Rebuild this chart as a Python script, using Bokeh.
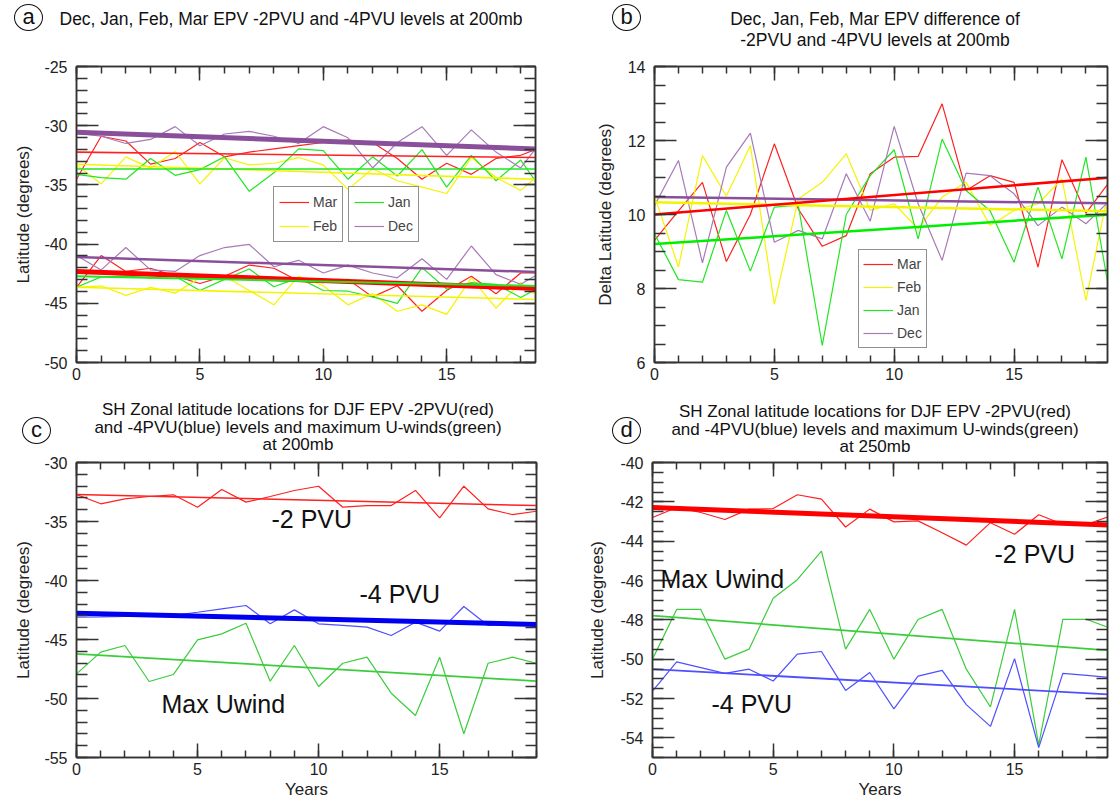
from bokeh.plotting import figure
from bokeh.layouts import column, row
from bokeh.models import (Range1d, LinearAxis, SingleIntervalTicker, Legend,
                          LegendItem, Label, Div, PrintfTickFormatter, CustomJSTickFormatter)
from bokeh.embed import file_html
from bokeh.resources import INLINE

# ---------------- data ----------------
years = list(range(20))
trend_x = [0, 19]

# panel a : latitude of -2PVU and -4PVU at 200mb
a_mar_2 = [-34.52, -30.89, -31.29, -33.25, -32.77, -31.42, -32.63, -32.23, -31.96, -31.69,
           -31.42, -31.21, -31.42, -32.77, -34.52, -33.17, -34.11, -32.77, -32.5, -31.69]
a_feb_2 = [-33.31, -34.92, -32.63, -33.58, -32.18, -34.92, -32.71, -33.31, -33.17, -32.69,
           -33.31, -35.38, -33.63, -34.65, -35.19, -35.73, -32.69, -34.38, -35.46, -33.71]
a_jan_2 = [-34.11, -34.38, -34.52, -32.77, -34.19, -33.71, -32.63, -35.54, -33.98, -31.96,
           -32.1, -34.52, -32.63, -34.25, -32.02, -35.19, -32.5, -34.65, -32.9, -35.86]
a_dec_2 = [-30.62, -30.89, -31.5, -31.16, -30.08, -31.69, -30.7, -30.48, -30.89, -31.5,
           -30.08, -31.02, -33.57, -31.42, -30.08, -32.5, -30.35, -32.23, -33.57, -30.89]
a_mar_4 = [-43.65, -40.97, -42.31, -42.04, -42.71, -43.33, -42.71, -41.77, -42.04, -43.12,
           -43.25, -42.98, -44.46, -43.52, -45.67, -43.92, -42.71, -44.19, -42.44, -42.44]
a_feb_4 = [-43.65, -43.52, -44.33, -43.65, -44.14, -42.85, -42.71, -43.92, -45.13, -42.71,
           -43.52, -45.13, -44.19, -45.67, -45.13, -45.94, -42.85, -45.4, -43.25, -45.0]
a_jan_4 = [-43.65, -42.77, -42.71, -42.85, -42.71, -43.92, -42.98, -42.1, -43.6, -42.85,
           -43.92, -43.98, -44.46, -45.0, -41.99, -43.79, -43.25, -43.39, -44.51, -43.39]
a_dec_4 = [-40.97, -42.18, -40.29, -42.18, -42.31, -40.97, -40.29, -40.03, -41.91, -41.37,
           -42.44, -41.77, -42.44, -42.85, -41.24, -42.98, -40.16, -42.58, -43.39, -42.18]
a_trend_mar_2 = [-32.23, -32.70]
a_trend_feb_2 = [-33.25, -34.55]
a_trend_jan_2 = [-33.66, -33.66]
a_trend_dec_2 = [-30.56, -31.99]
a_trend_mar_4 = [-42.31, -43.77]
a_trend_feb_4 = [-43.65, -44.70]
a_trend_jan_4 = [-42.71, -43.55]
a_trend_dec_4 = [-41.10, -42.38]

# panel b : difference (delta latitude)
b_mar = [9.3, 10.1, 10.87, 8.73, 10.0, 11.91, 10.15, 9.14, 9.43, 11.1,
         11.55, 11.57, 12.99, 10.65, 11.05, 10.87, 8.58, 11.48, 10.04, 10.9]
b_feb = [10.51, 8.58, 11.59, 10.5, 11.86, 7.57, 10.42, 10.87, 11.64, 10.11,
         10.29, 9.61, 10.47, 10.87, 9.7, 10.11, 10.29, 10.96, 7.68, 10.83]
b_jan = [9.48, 8.24, 8.17, 10.11, 8.47, 10.2, 10.25, 6.46, 10.0, 11.05,
         11.75, 9.34, 12.04, 10.65, 10.1, 8.71, 10.74, 8.8, 11.55, 7.81]
b_dec = [10.24, 11.46, 8.69, 11.28, 12.2, 9.25, 9.57, 9.34, 11.1, 9.82,
         12.38, 10.29, 8.76, 11.12, 11.05, 10.56, 9.7, 10.2, 9.75, 10.38]
b_trend_mar = [10.0, 11.0]
b_trend_feb = [10.33, 10.09]
b_trend_jan = [9.2, 10.0]
b_trend_dec = [10.47, 10.3]

# panel c : DJF at 200mb
c_red = [-32.71, -33.5, -33.08, -32.88, -32.74, -33.79, -32.29, -33.36, -32.88, -32.37,
         -32.01, -33.79, -33.65, -33.65, -32.37, -34.69, -32.01, -33.93, -34.41, -34.13]
c_blue = [-43.1, -43.08, -43.05, -43.0, -42.95, -42.69, -42.4, -42.12, -43.67, -42.49,
          -43.67, -43.81, -43.95, -44.66, -43.53, -44.29, -42.2, -43.81, -43.67, -43.67]
c_green = [-47.91, -46.07, -45.51, -48.56, -47.97, -45.03, -44.52, -43.62, -48.53, -45.51,
           -48.98, -47.01, -46.5, -49.55, -51.44, -46.5, -52.99, -47.01, -46.5, -47.01]
c_trend_red = [-32.71, -33.65]
c_trend_blue = [-42.77, -43.73]
c_trend_green = [-46.21, -48.53]

# panel d : DJF at 250mb
d_red = [-42.8, -42.29, -42.54, -42.9, -42.37, -42.34, -41.64, -41.86, -43.28, -42.37,
         -43.02, -42.97, -43.57, -44.2, -43.06, -43.65, -42.66, -43.14, -43.14, -42.71]
d_green = [-50.0, -47.47, -47.47, -50.0, -49.49, -46.9, -45.96, -44.51, -49.49, -47.47,
           -50.0, -47.98, -47.47, -50.51, -52.43, -47.47, -54.36, -47.98, -47.98, -48.44]
d_blue = [-51.63, -50.14, -50.43, -50.72, -50.51, -51.11, -49.74, -49.61, -51.59, -50.68,
          -52.53, -50.86, -50.57, -52.31, -53.42, -49.97, -54.5, -50.72, -50.82, -50.94]
d_trend_red = [-42.29, -43.18]
d_trend_green = [-47.79, -49.57]
d_trend_blue = [-50.51, -51.8]

title_a = "Dec, Jan, Feb, Mar EPV -2PVU and -4PVU levels at 200mb"
title_b = ["Dec, Jan, Feb, Mar EPV difference of", "-2PVU and -4PVU levels at 200mb"]
title_c = ["SH Zonal latitude locations for DJF EPV -2PVU(red)",
           "and -4PVU(blue) levels and maximum U-winds(green)", "at 200mb"]
title_d = ["SH Zonal latitude locations for DJF EPV -2PVU(red)",
           "and -4PVU(blue) levels and maximum U-winds(green)", "at 250mb"]

# ---------------- style ----------------
FONT = "Liberation Sans"
RED = "#ff2020"
YEL = "#f4f400"
GRN = "#22e622"
PUR = "#a77ab8"
PUR_DK = "#8a4f9a"
GRN2 = "#3ccc3c"
BLU = "#4f4fff"
BLU_DK = "#0000f0"
AX = "#333333"
TICK_FS = "16px"
AXLAB_FS = "17px"


def make_fig(w, h, xr, yr, mb, yint, yminor, xlabel=None, ylabel=None, ysd=10, ylsd=10):
    left, right, top, bottom = mb
    p = figure(width=w, height=h, x_range=Range1d(*xr), y_range=Range1d(*yr),
               output_backend="svg", toolbar_location=None,
               min_border_left=left, min_border_right=right,
               min_border_top=top, min_border_bottom=bottom)
    p.grid.visible = False
    p.outline_line_color = AX
    p.outline_line_width = 1.5
    p.background_fill_color = "white"
    p.border_fill_color = "white"
    bottom_ax = p.below[0]
    left_ax = p.left[0]
    bottom_ax.ticker = SingleIntervalTicker(interval=5, num_minor_ticks=5)
    left_ax.ticker = SingleIntervalTicker(interval=yint, num_minor_ticks=yminor)
    bottom_ax.formatter = PrintfTickFormatter(format="%d")
    left_ax.formatter = PrintfTickFormatter(format="%d")
    blank = CustomJSTickFormatter(code="return ''")
    top_ax = LinearAxis(ticker=SingleIntervalTicker(interval=5, num_minor_ticks=5),
                        formatter=blank)
    right_ax = LinearAxis(ticker=SingleIntervalTicker(interval=yint, num_minor_ticks=yminor),
                          formatter=blank)
    p.add_layout(top_ax, "above")
    p.add_layout(right_ax, "right")
    for ax, maj, mnr in ((bottom_ax, 14, 7), (top_ax, 14, 7),
                         (left_ax, 22, 11), (right_ax, 22, 11)):
        ax.major_tick_in = maj
        ax.major_tick_out = 0
        ax.minor_tick_in = mnr
        ax.minor_tick_out = 0
        ax.axis_line_color = AX
        ax.axis_line_width = 1.5
        ax.major_tick_line_color = AX
        ax.major_tick_line_width = 1.5
        ax.minor_tick_line_color = AX
        ax.minor_tick_line_width = 1.5
        ax.major_label_text_font = FONT
        ax.major_label_text_font_size = TICK_FS
        ax.major_label_text_color = "#222222"
        ax.axis_label_text_font = FONT
        ax.axis_label_text_font_size = AXLAB_FS
        ax.axis_label_text_font_style = "normal"
        ax.axis_label_text_color = "#222222"
    for ax in (top_ax, right_ax):
        ax.major_label_text_font_size = "1px"
        ax.major_label_standoff = 0
    bottom_ax.major_label_standoff = 5
    left_ax.major_label_standoff = ysd
    left_ax.axis_label_standoff = ylsd
    bottom_ax.axis_label_standoff = 2
    if xlabel:
        bottom_ax.axis_label = xlabel
    if ylabel:
        left_ax.axis_label = ylabel
    return p


def to_data(px, py, frame, xr, yr):
    fx0, fx1, fy0, fy1 = frame
    x = xr[0] + (px - fx0) / (fx1 - fx0) * (xr[1] - xr[0])
    y = yr[1] - (py - fy0) / (fy1 - fy0) * (yr[1] - yr[0])
    return x, y


def add_text(p, geo, px, py, text, size="25px"):
    x, y = to_data(px, py, *geo)
    p.add_layout(Label(x=x, y=y, text=text, text_font=FONT, text_font_size=size,
                       text_align="left", text_baseline="middle", text_color="#111111"))


def make_legend(items, loc, gh, sp, pad):
    return Legend(items=items, location=loc, glyph_width=30, glyph_height=gh,
                  label_text_font=FONT, label_text_font_size="14px", label_standoff=4,
                  label_height=gh, padding=pad, spacing=sp, margin=0,
                  border_line_color="#222222", border_line_width=1,
                  background_fill_color="white", background_fill_alpha=1)


def circle_html(letter, left, top):
    return ('<div style="position:absolute;left:%dpx;top:%dpx;width:29px;height:27px;'
            'border:1.5px solid #111;border-radius:50%%;font-size:22px;line-height:24px;'
            'text-align:center;">%s</div>' % (left, top, letter))


def title_html(lines, center, top, size, lh):
    out = ('<div style="position:absolute;left:%dpx;width:600px;top:%dpx;text-align:center;'
           'font-size:%.1fpx;line-height:%.1fpx;white-space:nowrap;">'
           % (center - 300, top, size, lh))
    out += "<br>".join(lines)
    return out + "</div>"


def band(inner, h):
    html = ('<div style="position:relative;width:1109px;height:%dpx;'
            'font-family:\'Liberation Sans\',Arial,sans-serif;color:#111;">%s</div>' % (h, inner))
    return Div(text=html, width=1109, height=h, margin=0)


# ---------------- panel a ----------------
A_XR, A_YR = (0, 18.6), (-50, -25)
pa = make_fig(580, 352, A_XR, A_YR, (76, 45, 4, 38), 5, 5, ylabel="Latitude (degrees)",
              ysd=9, ylsd=8)
r_mar = pa.line(years, a_mar_2, color=RED, line_width=1.2)
r_feb = pa.line(years, a_feb_2, color=YEL, line_width=1.2)
r_jan = pa.line(years, a_jan_2, color=GRN, line_width=1.2)
r_dec = pa.line(years, a_dec_2, color=PUR, line_width=1.2)
pa.line(years, a_mar_4, color=RED, line_width=1.2)
pa.line(years, a_feb_4, color=YEL, line_width=1.2)
pa.line(years, a_jan_4, color=GRN, line_width=1.2)
pa.line(years, a_dec_4, color=PUR, line_width=1.2)
pa.line(trend_x, a_trend_mar_2, color=RED, line_width=1.6)
pa.line(trend_x, a_trend_feb_2, color=YEL, line_width=1.6)
pa.line(trend_x, a_trend_jan_2, color=GRN, line_width=1.6)
pa.line(trend_x, a_trend_dec_2, color=PUR_DK, line_width=5)
pa.line(trend_x, a_trend_mar_4, color="#ff0000", line_width=5)
pa.line(trend_x, a_trend_feb_4, color=YEL, line_width=1.6)
pa.line(trend_x, a_trend_jan_4, color=GRN, line_width=2)
pa.line(trend_x, a_trend_dec_4, color=PUR_DK, line_width=2.5)
pa.add_layout(make_legend([LegendItem(label="Mar", renderers=[r_mar]),
                           LegendItem(label="Feb", renderers=[r_feb])], (197, 120), 20, 4, 5))
pa.add_layout(make_legend([LegendItem(label="Jan", renderers=[r_jan]),
                           LegendItem(label="Dec", renderers=[r_dec])], (272, 120), 20, 4, 5))

# ---------------- panel b ----------------
B_XR, B_YR = (0, 18.9), (6, 14)
pb = make_fig(529, 352, B_XR, B_YR, (74, 2, 18, 38), 2, 4,
              ylabel="Delta Latitude (degrees)", ysd=9, ylsd=10)
rb_mar = pb.line(years, b_mar, color=RED, line_width=1.2)
rb_feb = pb.line(years, b_feb, color=YEL, line_width=1.2)
rb_jan = pb.line(years, b_jan, color=GRN, line_width=1.2)
rb_dec = pb.line(years, b_dec, color=PUR, line_width=1.2)
pb.line(trend_x, b_trend_feb, color=YEL, line_width=2.5)
pb.line(trend_x, b_trend_dec, color=PUR_DK, line_width=2.5)
pb.line(trend_x, b_trend_jan, color="#00ee00", line_width=2.5)
pb.line(trend_x, b_trend_mar, color="#ff0000", line_width=2.5)
pb.add_layout(make_legend([LegendItem(label="Mar", renderers=[rb_mar]),
                           LegendItem(label="Feb", renderers=[rb_feb]),
                           LegendItem(label="Jan", renderers=[rb_jan]),
                           LegendItem(label="Dec", renderers=[rb_dec])], (204, 14), 20, 3, 4))

# ---------------- panel c ----------------
C_XR, C_YR = (0, 19), (-55, -30)
C_GEO = ((76, 536, 462, 757), C_XR, C_YR)
pc = make_fig(580, 348, C_XR, C_YR, (76, 44, 7, 46), 5, 5,
              xlabel="Years", ylabel="Latitude (degrees)", ysd=9, ylsd=8)
pc.line(years, c_red, color=RED, line_width=1.2)
pc.line(years, c_blue, color=BLU, line_width=1.2)
pc.line(years, c_green, color=GRN2, line_width=1.2)
pc.line(trend_x, c_trend_red, color=RED, line_width=1.5)
pc.line(trend_x, c_trend_green, color=GRN2, line_width=1.8)
pc.line(trend_x, c_trend_blue, color=BLU_DK, line_width=5)
add_text(pc, C_GEO, 271, 518, "-2 PVU")
add_text(pc, C_GEO, 359, 593, "-4 PVU")
add_text(pc, C_GEO, 161, 703, "Max Uwind")

# ---------------- panel d ----------------
D_XR, D_YR = (0, 18.85), (-55, -40)
D_GEO = ((652, 1107, 462, 757), D_XR, D_YR)
pd_ = make_fig(529, 348, D_XR, D_YR, (72, 2, 7, 46), 2, 4,
               xlabel="Years", ylabel="Latitude (degrees)", ysd=9, ylsd=10)
pd_.line(years, d_red, color=RED, line_width=1.2)
pd_.line(years, d_green, color=GRN2, line_width=1.2)
pd_.line(years, d_blue, color=BLU, line_width=1.2)
pd_.line(trend_x, d_trend_green, color=GRN2, line_width=1.8)
pd_.line(trend_x, d_trend_blue, color=BLU, line_width=1.8)
pd_.line(trend_x, d_trend_red, color="#ff0000", line_width=5)
add_text(pd_, D_GEO, 994, 553, "-2 PVU")
add_text(pd_, D_GEO, 660, 578, "Max Uwind")
add_text(pd_, D_GEO, 711, 703, "-4 PVU")

# ---------------- title bands ----------------
top_band = band(circle_html("a", 14, 4) + title_html([title_a], 291, 9, 17.5, 20)
                + circle_html("b", 612, 4) + title_html(title_b, 875, 9, 17.5, 21), 48)
mid_band = band(circle_html("c", 22, 17) + title_html(title_c, 298, 1, 17, 17.5)
                + circle_html("d", 612, 17) + title_html(title_d, 875, 3, 17, 17.5), 55)

layout = column(top_band, row(pa, pb), mid_band, row(pc, pd_))
open("out.html", "w").write(file_html(layout, INLINE))
